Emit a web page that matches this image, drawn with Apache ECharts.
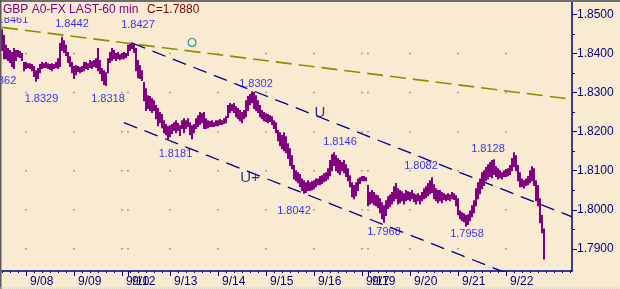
<!DOCTYPE html>
<html><head><meta charset="utf-8">
<script src="https://cdn.jsdelivr.net/npm/echarts@6/dist/echarts.min.js"></script>
<style>html,body{margin:0;padding:0;background:#F8EBD2}#c{width:620px;height:289px}</style>
</head><body><div id="c"></div>
<script>
// ---- data ----
const titleText = 'GBP A0-FX LAST-60 min';
const lastClose = 1.7880;
const dayNames = ['9/07','9/08','9/09','9/10','9/12','9/13','9/14','9/15','9/16','9/17','9/19','9/20','9/21','9/22','9/23'];
const dayFirstHour = [12,0,0,0,3,0,0,0,0,0,3,0,0,0,0];
const dayHourCount = [12,24,24,3,21,24,24,24,24,3,21,24,24,24,10];
const labelledDays = ['9/08','9/09','9/10','9/12','9/13','9/14','9/15','9/16','9/17','9/19','9/20','9/21','9/22'];
const highs = [
 1.8461,1.8446,1.8421,1.8413,1.8408,1.8403,1.8413,1.8408,1.8408,1.8405,1.8400,1.8377,
 1.8377,1.8374,1.8374,1.8372,1.8367,1.8356,1.8362,1.8372,1.8377,1.8374,1.8377,1.8374,1.8372,1.8374,1.8372,1.8377,1.8387,1.8426,1.8442,1.8433,1.8421,1.8403,1.8392,1.8377,
 1.8367,1.8369,1.8367,1.8364,1.8367,1.8377,1.8377,1.8374,1.8382,1.8379,1.8382,1.8387,1.8413,1.8382,1.8362,1.8356,1.8351,1.8387,1.8403,1.8413,1.8408,1.8400,1.8403,1.8397,
 1.8400,1.8403,1.8400,
 1.8421,1.8424,1.8427,1.8426,1.8413,1.8382,1.8369,1.8356,1.8326,1.8310,1.8292,1.8290,1.8285,1.8279,1.8267,1.8259,1.8249,1.8244,1.8228,1.8218,1.8213,
 1.8215,1.8218,1.8223,1.8228,1.8221,1.8215,1.8228,1.8233,1.8228,1.8233,1.8223,1.8215,1.8218,1.8233,1.8241,1.8249,1.8246,1.8249,1.8233,1.8228,1.8226,1.8228,1.8223,1.8228,
 1.8228,1.8231,1.8228,1.8233,1.8238,1.8267,1.8272,1.8269,1.8272,1.8264,1.8259,1.8254,1.8249,1.8254,1.8279,1.8290,1.8295,1.8302,1.8300,1.8292,1.8279,1.8267,1.8254,1.8249,
 1.8246,1.8244,1.8241,1.8238,1.8228,1.8223,1.8203,1.8197,1.8190,1.8197,1.8187,1.8169,1.8156,1.8138,1.8113,1.8100,1.8095,1.8090,1.8079,1.8074,1.8069,1.8074,1.8069,1.8072,
 1.8074,1.8079,1.8079,1.8085,1.8087,1.8092,1.8095,1.8105,1.8126,1.8141,1.8146,1.8138,1.8131,1.8126,1.8121,1.8126,1.8115,1.8105,1.8087,1.8069,1.8062,1.8069,1.8079,1.8082,
 1.8085,1.8085,1.8082,
 1.8062,1.8044,1.8049,1.8044,1.8038,1.8036,1.8028,1.8018,1.8010,1.8023,1.8033,1.8038,1.8044,1.8059,1.8067,1.8054,1.8049,1.8046,1.8041,1.8049,1.8046,
 1.8044,1.8049,1.8041,1.8038,1.8041,1.8036,1.8044,1.8054,1.8059,1.8067,1.8074,1.8082,1.8064,1.8054,1.8049,1.8049,1.8044,1.8041,1.8038,1.8041,1.8038,1.8044,1.8041,1.8036,
 1.8028,1.7997,1.7992,1.7990,1.7985,1.7987,1.7997,1.8010,1.8023,1.8054,1.8069,1.8079,1.8095,1.8100,1.8108,1.8115,1.8121,1.8126,1.8128,1.8110,1.8105,1.8100,1.8095,1.8100,
 1.8103,1.8105,1.8113,1.8131,1.8146,1.8138,1.8113,1.8095,1.8079,1.8074,1.8079,1.8085,1.8100,1.8110,1.8105,1.8074,1.8062,1.8028,1.7985,1.7951
];
const lows = [
 1.8408,1.8387,1.8387,1.8382,1.8377,1.8367,1.8362,1.8382,1.8392,1.8390,1.8382,1.8356,
 1.8362,1.8364,1.8362,1.8356,1.8341,1.8329,1.8336,1.8351,1.8362,1.8364,1.8364,1.8362,1.8359,1.8356,1.8362,1.8364,1.8362,1.8367,1.8408,1.8403,1.8395,1.8377,1.8367,1.8351,
 1.8336,1.8346,1.8354,1.8351,1.8354,1.8356,1.8362,1.8359,1.8364,1.8362,1.8367,1.8364,1.8356,1.8349,1.8331,1.8321,1.8318,1.8351,1.8377,1.8382,1.8387,1.8382,1.8387,1.8385,
 1.8387,1.8387,1.8390,
 1.8395,1.8408,1.8413,1.8403,1.8356,1.8338,1.8336,1.8331,1.8279,1.8254,1.8259,1.8254,1.8249,1.8254,1.8233,1.8215,1.8223,1.8210,1.8197,1.8192,1.8181,
 1.8187,1.8195,1.8203,1.8197,1.8203,1.8190,1.8208,1.8197,1.8208,1.8213,1.8192,1.8182,1.8197,1.8208,1.8213,1.8218,1.8223,1.8208,1.8208,1.8210,1.8213,1.8213,1.8213,1.8215,
 1.8215,1.8218,1.8218,1.8221,1.8223,1.8236,1.8249,1.8254,1.8249,1.8238,1.8233,1.8228,1.8223,1.8233,1.8238,1.8254,1.8269,1.8274,1.8259,1.8254,1.8249,1.8238,1.8233,1.8228,
 1.8226,1.8223,1.8226,1.8218,1.8208,1.8197,1.8177,1.8164,1.8156,1.8151,1.8146,1.8131,1.8113,1.8105,1.8079,1.8074,1.8069,1.8059,1.8049,1.8042,1.8044,1.8049,1.8049,1.8051,
 1.8054,1.8059,1.8064,1.8064,1.8067,1.8072,1.8074,1.8079,1.8087,1.8100,1.8113,1.8100,1.8095,1.8090,1.8100,1.8095,1.8085,1.8074,1.8059,1.8033,1.8028,1.8036,1.8049,1.8067,
 1.8074,1.8074,1.8074,
 1.8010,1.8015,1.8018,1.8013,1.8010,1.8005,1.7992,1.7977,1.7968,1.7985,1.8003,1.8008,1.8015,1.8023,1.8028,1.8015,1.8018,1.8023,1.8015,1.8023,1.8026,
 1.8023,1.8028,1.8021,1.8015,1.8023,1.8015,1.8023,1.8028,1.8031,1.8036,1.8041,1.8044,1.8028,1.8023,1.8018,1.8023,1.8018,1.8026,1.8023,1.8026,1.8023,1.8028,1.8026,1.8010,
 1.7987,1.7977,1.7972,1.7969,1.7958,1.7962,1.7972,1.7982,1.7992,1.8010,1.8028,1.8041,1.8054,1.8062,1.8074,1.8079,1.8085,1.8082,1.8090,1.8085,1.8079,1.8082,1.8079,1.8085,
 1.8085,1.8087,1.8090,1.8100,1.8110,1.8100,1.8074,1.8059,1.8059,1.8056,1.8062,1.8064,1.8069,1.8074,1.8062,1.8023,1.8010,1.7967,1.7941,1.7874
];
const yTickValues = [1.79,1.80,1.81,1.82,1.83,1.84,1.85];
const yMinorValues = [1.795,1.805,1.815,1.825,1.835,1.845];
const gridLevels = [1.79,1.80,1.81,1.82,1.83,1.84];
const annotIndex = [0,6,30,17,52,65,83,125,166,151,191,215,232,246];
const annotPrice = [1.8461,1.8362,1.8442,1.8329,1.8318,1.8427,1.8181,1.8302,1.8146,1.8042,1.7968,1.8082,1.7958,1.8128];
const trendO = [[0,1.8467],[285,1.8283]];
const trendU = [[65,1.8427],[285,1.7982]];
const trendUplus = [[61,1.8223],[285,1.7772]];
const trendTextLabels = ['O','U','U+'];
const trendTextIndex = [95,159,124];
const trendTextPrice = [1.8426,1.8249,1.8082];

// ---- layout / style (not data) ----
const annotOffset = [[9.5,-9.7],[-14.5,12.7],[10,-13],[5.5,17.3],[2,13],[6,-18],[7.5,14.6],[4,-8],[6,-11],[-10,17.4],[0,9.5],[-11,-12],[1,7.6],[-6,-11]];
const trendTextColor = ['#008080','#000080','#000080'];
const trendTextSize = [13,15,15];
const BG = '#F8EBD2', NAVY = '#000080', FONT = '"Liberation Sans", Arial, sans-serif';

// ---- build categories ----
const cats = [], dayStart = {}, hourOf = [];
dayNames.forEach((d, k) => {
  for (let h = 0; h < dayHourCount[k]; h++) {
    const hr = dayFirstHour[k] + h;
    if (h === 0) dayStart[cats.length] = d;
    hourOf.push(hr);
    cats.push(d + ' ' + String(hr).padStart(2, '0'));
  }
});
const majorIdx = new Set(Object.keys(dayStart).map(Number).filter(i => labelledDays.includes(dayStart[i])));
const isMinor = i => !majorIdx.has(i) && hourOf[i] % 4 === 0;

const dots = [];
majorIdx.forEach(i => gridLevels.forEach(v => dots.push([i, v])));

const bars = highs.map((h, i) => [i, h, lows[i]]);
const annots = annotIndex.map((idx, k) => ({
  value: [idx, annotPrice[k]],
  label: { offset: annotOffset[k], formatter: annotPrice[k].toFixed(4) }
}));
const trendTexts = trendTextIndex.map((idx, k) => ({
  value: [idx, trendTextPrice[k]],
  label: { formatter: trendTextLabels[k], color: trendTextColor[k], fontSize: trendTextSize[k] }
}));

const yMin = 1.784315, yMax = 1.853201;

const chart = echarts.init(document.getElementById('c'), null, { renderer: 'canvas' });
chart.setOption({
  animation: false,
  backgroundColor: BG,
  textStyle: { fontFamily: FONT },
  grid: { left: 2, right: 48, top: 2, bottom: 18, containLabel: false },
  xAxis: [{
    type: 'category', data: cats, boundaryGap: false, position: 'bottom',
    axisLine: { lineStyle: { color: NAVY, width: 1.5 } },
    axisTick: { interval: (i) => majorIdx.has(i), length: 5, lineStyle: { color: NAVY, width: 1 } },
    axisLabel: { interval: (i) => majorIdx.has(i), formatter: v => v.split(' ')[0], color: NAVY,
      fontSize: 12, fontFamily: FONT, align: 'left', padding: [0, 0, 0, 4], margin: 5, hideOverlap: false },
    splitLine: { show: false }
  }, {
    type: 'category', data: cats, boundaryGap: false, position: 'bottom',
    axisLine: { show: false },
    axisTick: { interval: (i) => isMinor(i), length: 2, lineStyle: { color: NAVY, width: 1 } },
    axisLabel: { show: false }, splitLine: { show: false }
  }],
  yAxis: [{
    type: 'value', position: 'right', min: yMin, max: yMax, scale: true,
    axisLine: { show: true, lineStyle: { color: NAVY, width: 1.5 } },
    axisTick: { show: true, customValues: yTickValues, length: 5, lineStyle: { color: NAVY } },
    axisLabel: { customValues: yTickValues, formatter: v => v.toFixed(4), color: NAVY, fontSize: 12, fontFamily: FONT, margin: 5 },
    splitLine: { show: false }
  }, {
    type: 'value', position: 'right', min: yMin, max: yMax, scale: true,
    axisLine: { show: false },
    axisTick: { show: true, customValues: yMinorValues, length: 3, lineStyle: { color: NAVY } },
    axisLabel: { show: false }, splitLine: { show: false }
  }],
  series: [
    { type: 'scatter', data: dots, symbol: 'rect', symbolSize: 1.5, itemStyle: { color: '#7a7060' }, silent: true, z: 1 },
    { type: 'line', data: trendO, symbol: 'none', lineStyle: { color: '#8c8c00', width: 1.6, type: [16, 7] }, silent: true, z: 2 },
    { type: 'line', data: trendU, symbol: 'none', lineStyle: { color: NAVY, width: 1.3, type: [14, 8] }, silent: true, z: 2 },
    { type: 'line', data: trendUplus, symbol: 'none', lineStyle: { color: NAVY, width: 1.3, type: [14, 8] }, silent: true, z: 2 },
    { type: 'custom', data: bars, encode: { x: 0, y: [1, 2] }, z: 3, silent: true,
      renderItem: (params, api) => {
        const p1 = api.coord([api.value(0), api.value(1)]);
        const p2 = api.coord([api.value(0), api.value(2)]);
        return { type: 'rect', shape: { x: p1[0] - 1, y: p1[1] - 0.5, width: 2, height: Math.max(p2[1] - p1[1] + 1, 2) },
          style: { fill: '#800080' } };
      } },
    { type: 'scatter', data: annots, symbolSize: 0, silent: true, z: 4,
      label: { show: true, position: 'inside', color: '#0000ff', fontSize: 11, fontFamily: FONT } },
    { type: 'scatter', data: trendTexts, symbolSize: 0, silent: true, z: 4,
      label: { show: true, position: 'inside', fontFamily: FONT } }
  ],
  graphic: [
    { type: 'rect', shape: { x: 0, y: 0, width: 206, height: 17 }, style: { fill: BG }, z: 100 },
    { type: 'text', x: 3, y: 10, style: { text: titleText, fill: '#800080', font: '12px ' + FONT, verticalAlign: 'middle' }, z: 101 },
    { type: 'text', x: 147, y: 10, style: { text: 'C=' + lastClose.toFixed(4), fill: '#800000', font: '12px ' + FONT, verticalAlign: 'middle' }, z: 101 },
    { type: 'rect', shape: { x: 0, y: 0, width: 620, height: 2 }, style: { fill: '#6e6e6e' }, z: 102 },
    { type: 'rect', shape: { x: 0, y: 0, width: 1.5, height: 289 }, style: { fill: '#5a5a5a' }, z: 102 },
    { type: 'line', shape: { x1: 0, y1: 288, x2: 620, y2: 288 }, style: { stroke: '#c9c3b8', lineWidth: 1, lineDash: [1, 1] }, z: 102 }
  ]
});
</script></body></html>
